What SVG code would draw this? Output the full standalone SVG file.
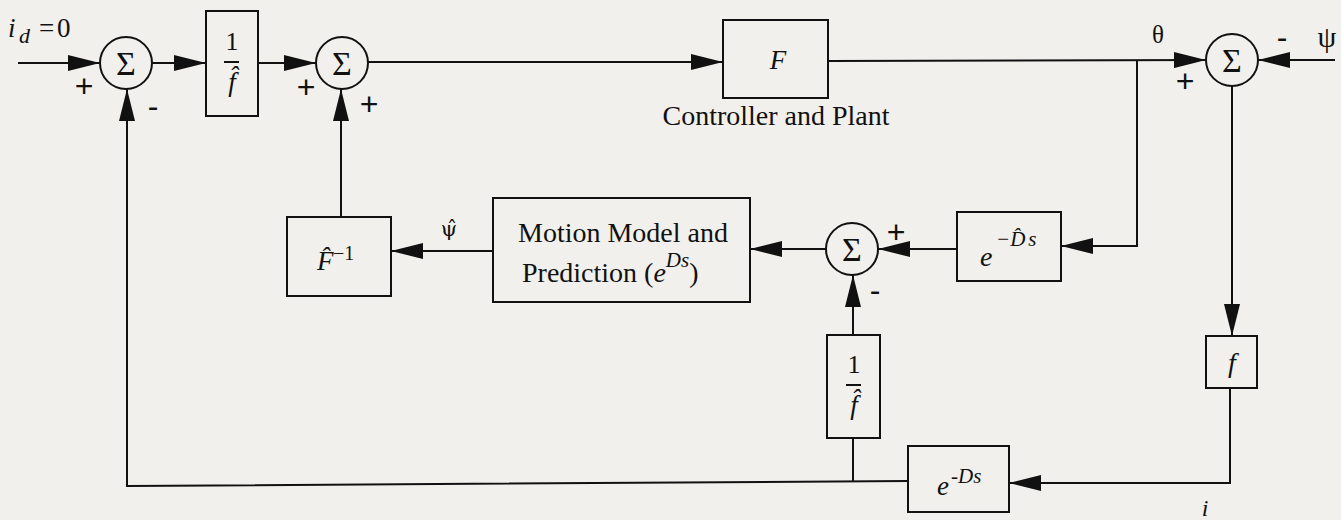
<svg xmlns="http://www.w3.org/2000/svg" width="1341" height="520" viewBox="0 0 1341 520">
<style>
.bg{fill:#f1f0ec}
.ln{fill:none;stroke:#111;stroke-width:2}
.bx{fill:none;stroke:#111;stroke-width:2}
.sum{fill:none;stroke:#111;stroke-width:2}
.t{font-family:"Liberation Serif","Times New Roman",serif;fill:#111}
.it{font-style:italic}
.sg{font-family:"Liberation Sans",Arial,sans-serif;font-size:32px;fill:#111;text-anchor:middle}
.sig{font-family:"Liberation Serif",serif;font-size:34px;fill:#111;text-anchor:middle}
</style>
<defs>
<marker id="ah" viewBox="0 0 32 16" refX="32" refY="8" markerWidth="32" markerHeight="16" markerUnits="userSpaceOnUse" orient="auto">
<path d="M0,0 L32,8 L0,16 z" fill="#111"/>
</marker>
</defs>
<rect class="bg" x="0" y="0" width="1341" height="520"/>

<g id="connectors">
<line class="ln" x1="18" y1="63" x2="100" y2="63" marker-end="url(#ah)"/>
<line class="ln" x1="152" y1="63" x2="206" y2="63" marker-end="url(#ah)"/>
<line class="ln" x1="258" y1="63" x2="316" y2="63" marker-end="url(#ah)"/>
<line class="ln" x1="368" y1="62" x2="723" y2="62" marker-end="url(#ah)"/>
<line class="ln" x1="828" y1="61" x2="1206" y2="60" marker-end="url(#ah)"/>
<polyline class="ln" points="1137,61 1137,246 1061,246" marker-end="url(#ah)"/>
<line class="ln" x1="957" y1="249" x2="878" y2="249" marker-end="url(#ah)"/>
<line class="ln" x1="826" y1="249" x2="750" y2="249" marker-end="url(#ah)"/>
<line class="ln" x1="493" y1="251" x2="391" y2="251" marker-end="url(#ah)"/>
<line class="ln" x1="341" y1="217" x2="341" y2="89" marker-end="url(#ah)"/>
<line class="ln" x1="1335" y1="60" x2="1258" y2="60" marker-end="url(#ah)"/>
<line class="ln" x1="1232" y1="86" x2="1232" y2="336" marker-end="url(#ah)"/>
<polyline class="ln" points="1230,388 1230,483 1009,483" marker-end="url(#ah)"/>
<polyline class="ln" points="908,481 127,486 127,89" marker-end="url(#ah)"/>
<line class="ln" x1="853" y1="438" x2="853" y2="481"/>
<line class="ln" x1="853" y1="335" x2="853" y2="275" marker-end="url(#ah)"/>
</g>

<g id="input-label">
<text class="t it" x="8" y="37" font-size="27">i</text>
<text class="t it" x="19" y="43" font-size="22">d</text>
<text class="t" x="39" y="37" font-size="27">=</text>
<text class="t" x="57" y="37" font-size="27">0</text>
</g>

<g id="sum1">
<circle class="sum" cx="126" cy="63" r="26"/>
<text class="sig" x="126" y="75">Σ</text>
<text class="sg" x="84" y="97">+</text>
<text class="sg" x="153" y="117">-</text>
</g>

<g id="inv-fhat-top">
<rect class="bx" x="206" y="11" width="52" height="105"/>
<text class="t" x="232" y="50" font-size="26" text-anchor="middle">1</text>
<line class="ln" x1="224" y1="62" x2="239" y2="62"/>
<text class="t it" x="232" y="91" font-size="27" text-anchor="middle">f&#x302;</text>
</g>

<g id="sum2">
<circle class="sum" cx="342" cy="63" r="26"/>
<text class="sig" x="342" y="75">Σ</text>
<text class="sg" x="306" y="98">+</text>
<text class="sg" x="369" y="115">+</text>
</g>

<g id="F">
<rect class="bx" x="723" y="20" width="105" height="78"/>
<text class="t it" x="778" y="69" font-size="27" text-anchor="middle">F</text>
<text class="t" x="776" y="125" font-size="28" text-anchor="middle">Controller and Plant</text>
</g>

<g id="sum3">
<circle class="sum" cx="1232" cy="60" r="26"/>
<text class="sig" x="1232" y="72">Σ</text>
<text class="t" x="1158" y="43" font-size="25" text-anchor="middle">θ</text>
<text class="sg" x="1185" y="92">+</text>
<text class="sg" x="1282" y="48">-</text>
<text class="t" x="1327" y="47" font-size="30" text-anchor="middle">ψ</text>
</g>

<g id="Fhat-inv">
<rect class="bx" x="287" y="217" width="104" height="79"/>
<text class="t it" x="317" y="270" font-size="27">F&#x302;</text>
<text class="t" x="333" y="260" font-size="20">−1</text>
</g>

<g id="psi-hat">
<text x="449" y="236" font-size="21" text-anchor="middle" font-family="'DejaVu Serif',serif" fill="#111">ψ&#x302;</text>
</g>

<g id="motion-model">
<rect class="bx" x="493" y="198" width="257" height="104"/>
<text class="t" x="518" y="242" font-size="28">Motion Model and</text>
<text class="t" x="522" y="282" font-size="28">Prediction (<tspan class="it">e</tspan><tspan class="it" font-size="21" dy="-15">Ds</tspan><tspan dy="15">)</tspan></text>
</g>

<g id="sum4">
<circle class="sum" cx="852" cy="249" r="26"/>
<text class="sig" x="852" y="261">Σ</text>
<text class="sg" x="896" y="243">+</text>
<text class="sg" x="875" y="301">-</text>
</g>

<g id="delay-hat">
<rect class="bx" x="957" y="212" width="104" height="69"/>
<text class="t it" x="980" y="266" font-size="28">e</text>
<text class="t it" x="996" y="246" font-size="21">−D&#x302;<tspan dx="3">s</tspan></text>
</g>

<g id="inv-fhat-bottom">
<rect class="bx" x="827" y="335" width="53" height="103"/>
<text class="t" x="854" y="373" font-size="26" text-anchor="middle">1</text>
<line class="ln" x1="846" y1="385" x2="861" y2="385"/>
<text class="t it" x="854" y="414" font-size="27" text-anchor="middle">f&#x302;</text>
</g>

<g id="f-block">
<rect class="bx" x="1206" y="336" width="51" height="52"/>
<text class="t it" x="1232" y="372" font-size="28" text-anchor="middle">f</text>
</g>

<g id="delay">
<rect class="bx" x="908" y="446" width="101" height="66"/>
<text class="t it" x="937" y="495" font-size="27">e</text>
<text class="t it" x="951" y="483" font-size="21">-Ds</text>
<text class="t it" x="1205" y="516" font-size="24" text-anchor="middle">i</text>
</g>
</svg>
